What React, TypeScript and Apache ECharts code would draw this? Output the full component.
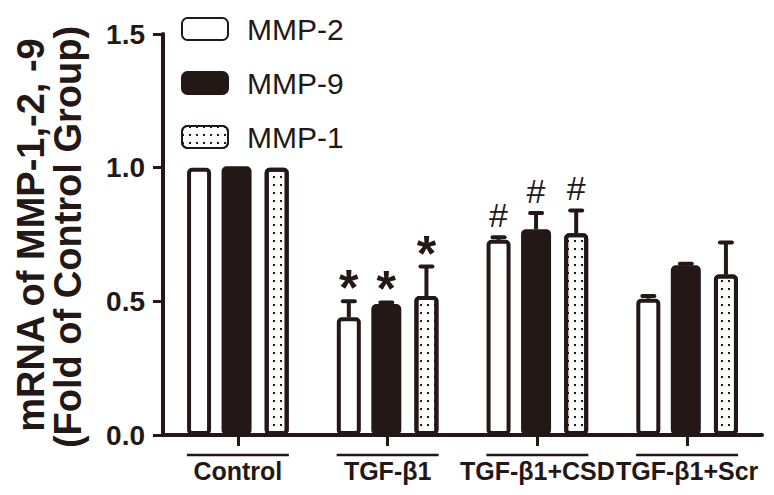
import React, { useEffect, useRef } from "react";
import * as echarts from "echarts";

const categories = ["Control", "TGF-β1", "TGF-β1+CSD", "TGF-β1+Scr"];
const seriesNames = ["MMP-2", "MMP-9", "MMP-1"];
const mmp2 = [1.0, 0.44, 0.73, 0.51];
const mmp9 = [1.005, 0.49, 0.77, 0.635];
const mmp1 = [1.0, 0.52, 0.755, 0.6];
const err2 = [0, 0.06, 0.01, 0.01];
const err9 = [0, 0.006, 0.06, 0.006];
const err1 = [0, 0.11, 0.085, 0.12];
const sig2 = ["", "*", "#", ""];
const sig9 = ["", "*", "#", ""];
const sig1 = ["", "*", "#", ""];
const yTicks = [0, 0.5, 1.0, 1.5];
const yTitle1 = "mRNA of MMP-1,-2, -9";
const yTitle2 = "(Fold of Control Group)";

const INK = "#231815";
const FONT = 'Arial, "Liberation Sans", sans-serif';

const widths = [24, 30, 24];
const gapPct = 0.4375;

function barOffsets(): number[] {
  let sum = 0;
  widths.forEach((w) => (sum += w * (1 + gapPct)));
  sum -= widths[widths.length - 1] * gapPct;
  let off = -sum / 2;
  const res: number[] = [];
  widths.forEach((w) => {
    res.push(off + w / 2);
    off += w * (1 + gapPct);
  });
  return res;
}

export default function App() {
  const ref = useRef<HTMLDivElement>(null);
  useEffect(() => {
    if (!ref.current) return;
    const chart = echarts.init(ref.current, null, { renderer: "svg" });
    const offsets = barOffsets();
    const values = [mmp2, mmp9, mmp1];
    const errs = [err2, err9, err1];
    const sigs = [sig2, sig9, sig1];
    const fills = ["#ffffff", INK, "#ffffff"];

    const barSeries = seriesNames.map((name, si) => {
      const itemStyle: any = {
        color: fills[si],
        borderColor: INK,
        borderWidth: 4,
        borderRadius: 3,
      };
      if (si === 2) {
        itemStyle.decal = {
          symbol: "rect",
          symbolSize: 1,
          color: INK,
          dashArrayX: [2, 5],
          dashArrayY: [2, 6],
          rotation: 0,
        };
      }
      return {
        type: "bar",
        name,
        data: values[si],
        barWidth: widths[si],
        barGap: gapPct * 100 + "%",
        itemStyle,
        z: 2,
      };
    });

    const errSeries = seriesNames.map((name, si) => ({
      type: "custom",
      name: name + " err",
      z: 5,
      data: values[si].map((v, i) => [i, v, errs[si][i]]),
      renderItem: (params: any, api: any) => {
        const i = api.value(0);
        const v = api.value(1);
        const e = api.value(2);
        const base = api.coord([i, v]);
        const top = api.coord([i, v + e]);
        const x = base[0] + offsets[si];
        const children: any[] = [];
        if (e > 0) {
          children.push({
            type: "line",
            shape: { x1: x, y1: base[1], x2: x, y2: top[1] },
            style: { stroke: INK, lineWidth: 4 },
          });
          children.push({
            type: "line",
            shape: { x1: x - 6, y1: top[1], x2: x + 6, y2: top[1] },
            style: { stroke: INK, lineWidth: 4, lineCap: "round" },
          });
        }
        const s = sigs[si][params.dataIndex];
        if (s) {
          const isStar = s === "*";
          children.push({
            type: "text",
            x: x,
            y: top[1] - (isStar ? 13 : 22),
            style: {
              text: s,
              fill: INK,
              font: isStar ? `bold 50px ${FONT}` : `34px ${FONT}`,
              align: "center",
              verticalAlign: "middle",
              textAlign: "center",
              textVerticalAlign: "middle",
            },
          });
        }
        return { type: "group", children };
      },
    }));

    const overlineSeries = {
      type: "custom",
      name: "overline",
      z: 5,
      clip: false,
      data: categories.map((c, i) => [i, 0]),
      renderItem: (params: any, api: any) => {
        const p = api.coord([api.value(0), 0]);
        const half = 51;
        return {
          type: "line",
          shape: { x1: p[0] - half, y1: p[1] + 20, x2: p[0] + half, y2: p[1] + 20 },
          style: { stroke: INK, lineWidth: 2.5 },
        };
      },
    };

    const option: any = {
      animation: false,
      backgroundColor: "#ffffff",
      grid: { left: 163, right: 12, top: 34, bottom: 60, containLabel: false },
      legend: {
        data: seriesNames,
        orient: "vertical",
        left: 176,
        top: 9,
        itemWidth: 46,
        itemHeight: 22,
        itemGap: 24,
        selectedMode: false,
        textStyle: {
          fontSize: 30,
          fontFamily: FONT,
          color: INK,
          padding: [0, 0, 0, 14],
        },
      },
      xAxis: {
        type: "category",
        data: categories,
        axisLine: { show: true, lineStyle: { color: INK, width: 4 } },
        axisTick: {
          show: true,
          alignWithLabel: true,
          length: 11,
          lineStyle: { color: INK, width: 3 },
        },
        axisLabel: {
          interval: 0,
          margin: 23,
          fontSize: 25,
          fontWeight: "bold",
          fontFamily: FONT,
          color: INK,
        },
        splitLine: { show: false },
      },
      yAxis: {
        type: "value",
        min: yTicks[0],
        max: yTicks[yTicks.length - 1],
        interval: 0.5,
        axisLine: { show: true, lineStyle: { color: INK, width: 4 } },
        axisTick: { show: true, length: 10, lineStyle: { color: INK, width: 3 } },
        axisLabel: {
          margin: 18,
          fontSize: 28,
          fontWeight: "bold",
          fontFamily: FONT,
          color: INK,
          formatter: (v: number) => v.toFixed(1),
        },
        splitLine: { show: false },
      },
      graphic: [
        {
          type: "text",
          x: 31,
          y: 235,
          rotation: Math.PI / 2,
          style: {
            text: yTitle1,
            font: `bold 38px ${FONT}`,
            fill: INK,
            align: "center",
            verticalAlign: "middle",
            textAlign: "center",
            textVerticalAlign: "middle",
          },
        },
        {
          type: "text",
          x: 68,
          y: 237,
          rotation: Math.PI / 2,
          style: {
            text: yTitle2,
            font: `bold 38px ${FONT}`,
            fill: INK,
            align: "center",
            verticalAlign: "middle",
            textAlign: "center",
            textVerticalAlign: "middle",
          },
        },
      ],
      series: [...barSeries, ...errSeries, overlineSeries],
    };
    chart.setOption(option);
    return () => chart.dispose();
  }, []);
  return (
    <div
      ref={ref}
      style={{ position: "absolute", left: 0, top: 0, width: 774, height: 495 }}
    />
  );
}
